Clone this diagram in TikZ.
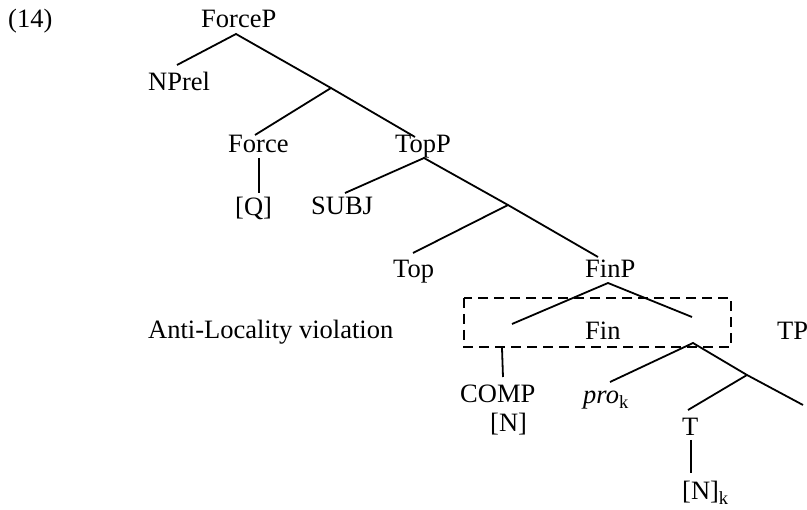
\documentclass[tikz,border=0pt]{standalone}
\usepackage{fontspec}
\setmainfont{Liberation Serif}
\begin{document}
\begin{tikzpicture}[x=1pt,y=-1pt,
  lbl/.style={anchor=base west,inner sep=0pt,font=\fontsize{26.5}{30}\selectfont},
  branch/.style={line width=1.8pt},
  dbox/.style={line width=1.8pt,dash pattern=on 10pt off 6pt}]
\useasboundingbox (0,0) rectangle (807,510);
% labels
\node[lbl] (ex) at (8,28) {(14)};
\node[lbl] (forcep) at (201,28) {ForceP};
\node[lbl] (nprel) at (148,91) {NPrel};
\node[lbl] (force) at (228,153) {Force};
\node[lbl] (topp) at (395,153) {TopP};
\node[lbl] (q) at (235,216) {[Q]};
\node[lbl] (subj) at (311,215) {SUBJ};
\node[lbl] (top) at (393,278) {Top};
\node[lbl] (finp) at (585,278) {FinP};
\node[lbl] (anti) at (148,339) {Anti-Locality violation};
\node[lbl] (fin) at (585,340) {Fin};
\node[lbl] (tp) at (777,340) {TP};
\node[lbl] (comp) at (460,403) {COMP};
\node[lbl] (n) at (490,432) {[N]};
\node[lbl] (pro) at (583,404) {\textit{pro}\textsubscript{k}};
\node[lbl] (t) at (682,436) {T};
\node[lbl] (nk) at (682,500) {[N]\textsubscript{k}};
% branch points
\coordinate (fpTip) at (236,34);
\coordinate (nprelEnd) at (177,65);
\coordinate (b1) at (331,88);
\coordinate (forceEnd) at (255,135);
\coordinate (toppEnd) at (415,137);
\coordinate (forceBot) at (259,158);
\coordinate (qTop) at (259,193);
\coordinate (toppTip) at (424,158);
\coordinate (subjEnd) at (345,193);
\coordinate (b2) at (508,205);
\coordinate (topEnd) at (413,253);
\coordinate (finpEnd) at (598,257);
\coordinate (finpTip) at (608,283);
\coordinate (finL) at (512,324);
\coordinate (finR) at (692,317);
\coordinate (compTop) at (502,348);
\coordinate (compBot) at (503,377);
\coordinate (tpTip) at (693,343);
\coordinate (proEnd) at (610,382);
\coordinate (b3) at (747,375);
\coordinate (rightEnd) at (803,405);
\coordinate (tEnd) at (688,410);
\coordinate (tBot) at (691,440);
\coordinate (nkTop) at (691,473);
\coordinate (boxA) at (464,298);
\coordinate (boxB) at (731,347);
% branches
\draw[branch] (nprelEnd) -- (fpTip) -- (b1) -- (toppEnd);
\draw[branch] (b1) -- (forceEnd);
\draw[branch] (forceBot) -- (qTop);
\draw[branch] (subjEnd) -- (toppTip) -- (b2) -- (finpEnd);
\draw[branch] (b2) -- (topEnd);
\draw[branch] (finL) -- (finpTip) -- (finR);
\draw[branch] (compTop) -- (compBot);
\draw[branch] (proEnd) -- (tpTip) -- (b3) -- (rightEnd);
\draw[branch] (b3) -- (tEnd);
\draw[branch] (tBot) -- (nkTop);
\draw[dbox] (boxA) rectangle (boxB);
\end{tikzpicture}
\end{document}
